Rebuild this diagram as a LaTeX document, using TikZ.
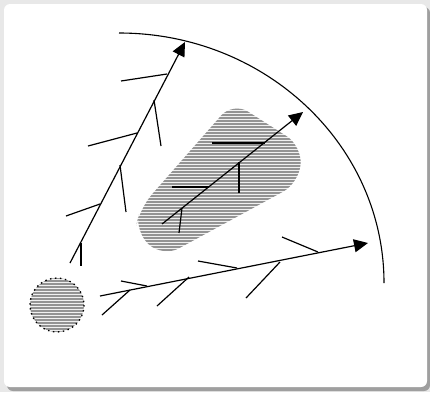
\documentclass[tikz,border=0pt]{standalone}
\usetikzlibrary{arrows.meta}

\tikzset{
  ray/.style={line width=1.2pt, -{Triangle[length=14pt,width=13pt]}},
  twig/.style={line width=1.2pt},
  stripe/.style={line width=1.7pt, gray!85}
}

\begin{document}
\begin{tikzpicture}[x=1pt, y=-1pt]
    \useasboundingbox (0,0) rectangle (430,392);
    % Background and panel
    \fill[gray!18] (0,0) rectangle (430,392);
    \fill[gray!75, rounded corners=6pt] (7,7) rectangle (430,391);
    \fill[white, rounded corners=6pt] (4,4) rectangle (427,387);

    % Shaded region in the middle
    \begin{scope}
        \clip[rounded corners=18pt] (233,102) -- (302,146) -- (299,183)
            -- (163,257) -- (135,232) -- (140,208) -- cycle;
        \fill[gray!12] (130,95) rectangle (310,265);
        \foreach \y in {100,103,...,262}
            \draw[stripe] (130,\y) -- (310,\y);
    \end{scope}

    % Small source disc
    \begin{scope}
        \clip (57,305) circle (27);
        \fill[gray!12] (28,276) rectangle (86,334);
        \foreach \y in {278,281,...,334}
            \draw[stripe] (28,\y) -- (86,\y);
    \end{scope}
    \draw[line width=1.3pt, dash pattern=on 1.5pt off 3.5pt] (57,305) circle (27);

    % Outer boundary arc
    \draw[line width=1.1pt] (119,33) arc[start angle=-90, end angle=0, x radius=265, y radius=250];

    % Left ray
    \coordinate (l0) at (70,263);
    \coordinate (l1) at (185,42);
    \draw[ray] (l0) -- (l1);
    \draw[twig] (81,243) -- (81,266);
    \draw[twig] (66,216) -- (100,204);
    \draw[twig] (120,165) -- (126,212);
    \draw[twig] (88,146) -- (137,133);
    \draw[twig] (154,100) -- (161,146);
    \draw[twig] (121,81) -- (167,74);

    % Middle ray
    \coordinate (m0) at (162,224);
    \coordinate (m1) at (303,112);
    \draw[ray] (m0) -- (m1);
    \draw[twig] (182,208) -- (179,233);
    \draw[twig] (172,187) -- (209,187);
    \draw[twig] (239,162) -- (239,193);
    \draw[twig] (212,143) -- (265,143);

    % Bottom ray
    \coordinate (b0) at (100,296);
    \coordinate (b1) at (368,243);
    \draw[ray] (b0) -- (b1);
    \draw[twig] (102,315) -- (130,290);
    \draw[twig] (121,281) -- (147,286);
    \draw[twig] (157,306) -- (189,277);
    \draw[twig] (198,261) -- (237,268);
    \draw[twig] (246,298) -- (280,262);
    \draw[twig] (282,237) -- (318,252);
\end{tikzpicture}
\end{document}
